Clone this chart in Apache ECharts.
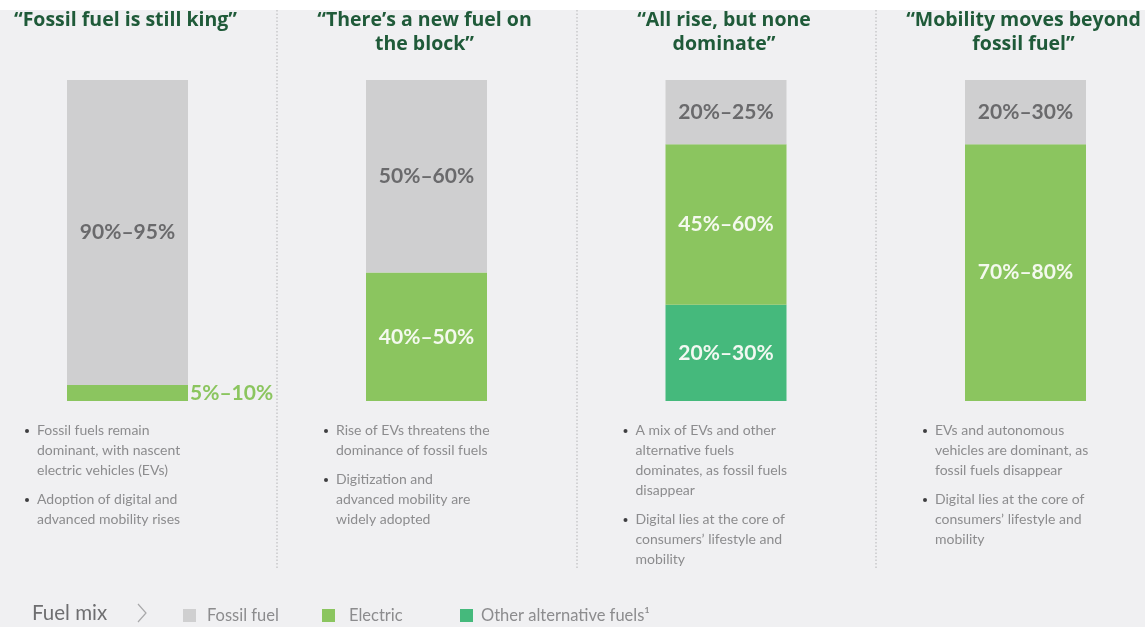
<!DOCTYPE html>
<html>
<head>
<meta charset="utf-8">
<script src="https://cdn.jsdelivr.net/npm/echarts@6/dist/echarts.min.js"></script>
<style>
  html, body { margin: 0; padding: 0; background: #f0f0f2; }
  #chart { width: 1145px; height: 627px; }
</style>
</head>
<body>
<div id="chart"></div>
<script>
// Four mobility scenarios and their projected fuel mix
const scenarioTitles = [
  '“Fossil fuel is still king”',
  '“There’s a new fuel on\nthe block”',
  '“All rise, but none\ndominate”',
  '“Mobility moves beyond\nfossil fuel”'
];

// Share of each fuel drawn in the stacked bar (percent)
const fossilShare   = [95, 60, 20, 20];
const electricShare = [5, 40, 50, 80];
const otherShare    = [0, 0, 30, 0];

// Stated ranges (percent) shown as the segment labels
const fossilRange   = [[90, 95], [50, 60], [20, 25], [20, 30]];
const electricRange = [[5, 10], [40, 50], [45, 60], [70, 80]];
const otherRange    = [null, null, [20, 30], null];

const fuelNames = ['Fossil fuel', 'Electric', 'Other alternative fuels'];

const bulletTexts = [
  ['Fossil fuels remain\ndominant, with nascent\nelectric vehicles (EVs)', 'Adoption of digital and\nadvanced mobility rises'],
  ['Rise of EVs threatens the\ndominance of fossil fuels', 'Digitization and\nadvanced mobility are\nwidely adopted'],
  ['A mix of EVs and other\nalternative fuels\ndominates, as fossil fuels\ndisappear', 'Digital lies at the core of\nconsumers’ lifestyle and\nmobility'],
  ['EVs and autonomous\nvehicles are dominant, as\nfossil fuels disappear', 'Digital lies at the core of\nconsumers’ lifestyle and\nmobility']
];

const COLORS = { fossil: '#cfcfd0', electric: '#8bc55f', other: '#45b97c' };
const FONT = 'Lato, "Open Sans", sans-serif';
const HEAD_FONT = '"Open Sans", Lato, sans-serif';

const barCenters = [127.5, 426.5, 726, 1025.5];
const barWidth = 121;
const barTop = 80;
const barHeight = 321;

const rangeText = r => r[0] + '%–' + r[1] + '%';

const grids = [], xAxes = [], yAxes = [], series = [], graphics = [];

// top white strip
graphics.push({ type: 'rect', left: 0, top: 0, shape: { width: 1145, height: 10 }, style: { fill: '#ffffff' }, silent: true });

scenarioTitles.forEach((title, i) => {
  grids.push({ left: barCenters[i] - barWidth / 2, top: barTop, width: barWidth, height: barHeight });
  xAxes.push({ type: 'category', gridIndex: i, data: [String(i)], show: false });
  yAxes.push({ type: 'value', gridIndex: i, min: 0, max: 100, show: false });

  const segs = [
    { name: fuelNames[2], val: otherShare[i], range: otherRange[i], color: COLORS.other, labelColor: '#f2f8f2' },
    { name: fuelNames[1], val: electricShare[i], range: electricRange[i], color: COLORS.electric, labelColor: '#f4f9ee' },
    { name: fuelNames[0], val: fossilShare[i], range: fossilRange[i], color: COLORS.fossil, labelColor: '#6a6a6c' }
  ];
  segs.forEach(s => {
    if (!s.val) return;
    const outside = s.val < 10;
    series.push({
      type: 'bar',
      name: s.name,
      xAxisIndex: i,
      yAxisIndex: i,
      stack: 'mix' + i,
      barWidth: barWidth,
      data: [s.val],
      itemStyle: { color: s.color },
      silent: true,
      label: {
        show: true,
        position: outside ? 'right' : 'inside',
        distance: 2,
        formatter: rangeText(s.range),
        color: outside ? COLORS.electric : s.labelColor,
        fontFamily: FONT,
        fontWeight: 'bold',
        fontSize: 21
      }
    });
  });

  // scenario heading
  graphics.push({
    type: 'text',
    x: barCenters[i] - 2,
    y: 8,
    style: {
      text: title,
      fill: '#1f5a39',
      font: 'bold 19.5px ' + HEAD_FONT,
      textAlign: 'center',
      textVerticalAlign: 'top',
      lineHeight: 24
    }
  });

  // bullet notes
  const bx = barCenters[i] - barWidth / 2 - 40;
  let y = 420;
  bulletTexts[i].forEach(t => {
    graphics.push({ type: 'circle', shape: { cx: bx, cy: y + 11, r: 2 }, style: { fill: '#3e3e40' }, silent: true });
    graphics.push({
      type: 'text', x: bx + 10, y: y,
      style: { text: t, fill: '#8c8c8e', font: '14px ' + FONT, lineHeight: 20, textVerticalAlign: 'top' }
    });
    y += t.split('\n').length * 20 + 9;
  });
});

// dotted dividers between scenarios
[277, 577, 876].forEach(x => {
  graphics.push({
    type: 'line', shape: { x1: x, y1: 10, x2: x, y2: 570 },
    style: { stroke: '#c8c8ca', lineWidth: 1.5, lineDash: [1.5, 2] }, silent: true
  });
});

// legend caption and chevron
graphics.push({
  type: 'text', x: 32, y: 613,
  style: { text: 'Fuel mix', fill: '#6e6e70', font: '20.5px ' + FONT, textVerticalAlign: 'middle' }
});
graphics.push({
  type: 'polyline', shape: { points: [[138, 604], [146, 613], [138, 622]] },
  style: { stroke: '#a8a8aa', lineWidth: 1.2, fill: null }, silent: true
});

const legendColors = [COLORS.fossil, COLORS.electric, COLORS.other];
const legendPads = [[0, 0, 0, 6], [0, 0, 0, 9], [0, 0, 0, 3]];
const legendLefts = [183, 322, 460];

const legendBase = {
  top: 607,
  padding: 0,
  itemWidth: 13,
  itemHeight: 13,
  icon: 'rect',
  selectedMode: false,
  formatter: n => n === 'Other alternative fuels' ? n + '¹' : n,
  textStyle: { color: '#8c8c8e', fontFamily: FONT, fontSize: 16.5 }
};

const chart = echarts.init(document.getElementById('chart'), null, { renderer: 'canvas' });
chart.setOption({
  backgroundColor: '#f0f0f2',
  animation: false,
  grid: grids,
  xAxis: xAxes,
  yAxis: yAxes,
  legend: fuelNames.map((n, k) => Object.assign({}, legendBase, {
    left: legendLefts[k],
    data: [{ name: n, itemStyle: { color: legendColors[k] }, textStyle: { padding: legendPads[k] } }]
  })),
  series: series,
  graphic: graphics
});
</script>
</body>
</html>
